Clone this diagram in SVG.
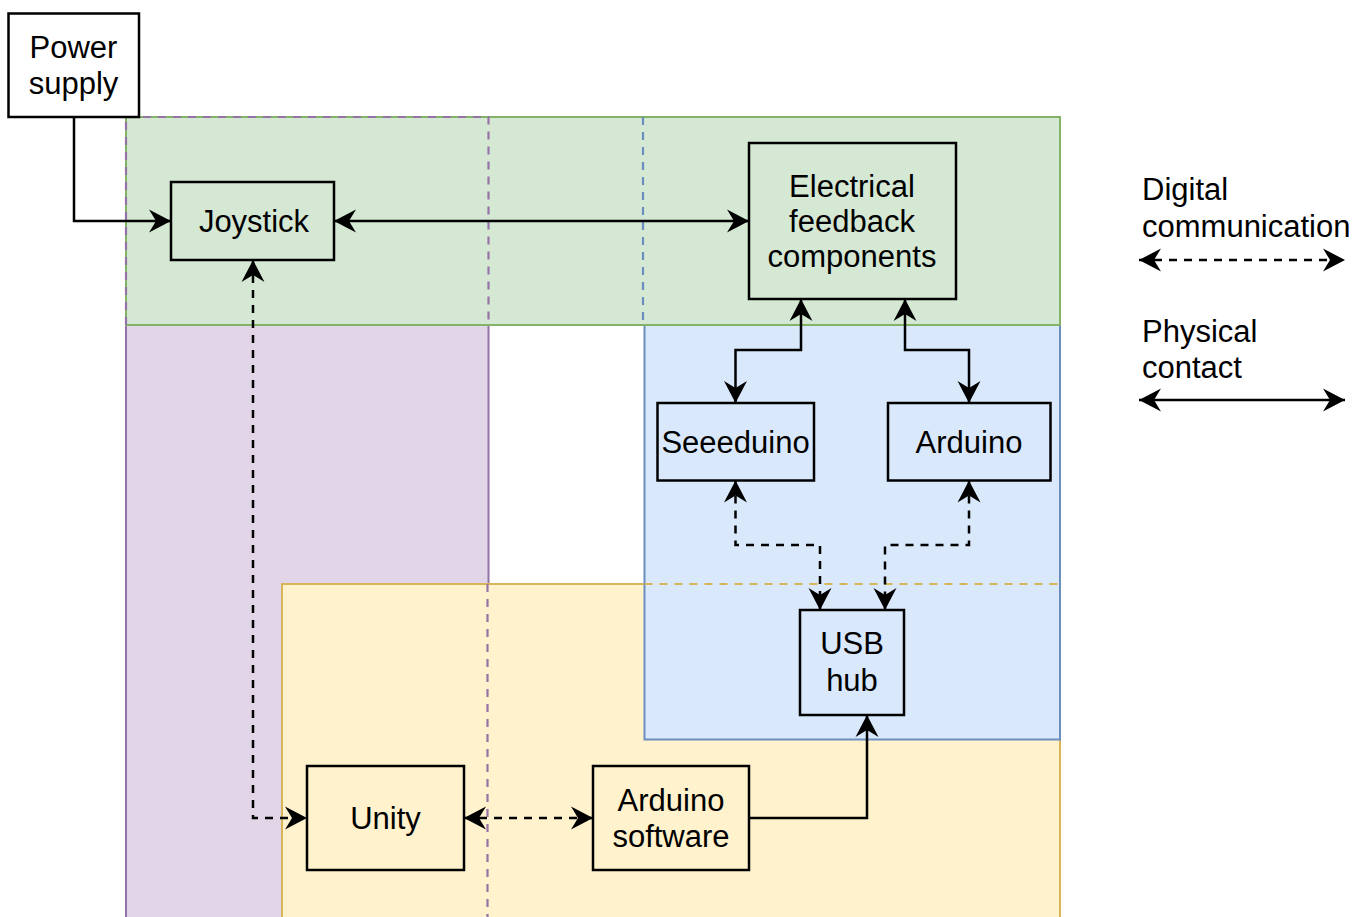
<svg xmlns="http://www.w3.org/2000/svg" width="1365" height="917" viewBox="0 0 1365 917">
<style>
.t{font-family:"Liberation Sans",Arial,Helvetica,sans-serif;font-size:31px;fill:#000;text-anchor:middle}
.l{font-family:"Liberation Sans",Arial,Helvetica,sans-serif;font-size:31px;fill:#000}
.box{fill:none;stroke:#000;stroke-width:2.5}
.solid{fill:none;stroke:#000;stroke-width:2.5}
.dash{fill:none;stroke:#000;stroke-width:2.5;stroke-dasharray:8 7}
.rd{fill:none;stroke-width:2.2;stroke-dasharray:8 7}
</style>
<defs>
<marker id="arr" markerUnits="userSpaceOnUse" viewBox="-24 -13 26 26" markerWidth="26" markerHeight="26" refX="0" refY="0" orient="auto-start-reverse">
<path d="M0 0 L-22 -11.5 L-15 0 L-22 11.5 Z" fill="#000" stroke="none"/>
</marker>
</defs>
<rect width="1365" height="917" fill="#fff"/>
<g id="regions">
<rect x="126" y="117" width="362.5" height="830" fill="#e1d5e7" stroke="#9673a6" stroke-width="2"/>
<rect x="282" y="584" width="778" height="360" fill="#fff2cc" stroke="#d6b656" stroke-width="2"/>
<rect x="644.5" y="117" width="415.5" height="622.5" fill="#dae8fc" stroke="#6c8ebf" stroke-width="2"/>
<rect x="126" y="117" width="934" height="208" fill="#d5e8d4" stroke="#82b366" stroke-width="2"/>
<path class="rd" stroke="#9673a6" d="M126 325 V117 H488.5 V325 M487.5 584 V917"/>
<path class="rd" stroke="#6c8ebf" d="M643 117 V325"/>
<path class="rd" stroke="#d6b656" d="M644.5 584 H1060"/>
</g>
<g id="power-supply">
<rect class="box" x="8.5" y="13.5" width="130.5" height="103.5" fill="#fff"/>
<text class="t" x="73.5" y="58">Power</text>
<text class="t" x="73.5" y="94">supply</text>
</g>
<g id="joystick">
<rect class="box" x="171" y="182" width="163" height="78"/>
<text class="t" x="254" y="232">Joystick</text>
</g>
<g id="electrical-feedback">
<rect class="box" x="749" y="143" width="207" height="156"/>
<text class="t" x="852" y="197">Electrical</text>
<text class="t" x="852" y="232">feedback</text>
<text class="t" x="852" y="267">components</text>
</g>
<g id="seeeduino">
<rect class="box" x="657.5" y="403" width="156.5" height="77.5"/>
<text class="t" x="735.5" y="453">Seeeduino</text>
</g>
<g id="arduino">
<rect class="box" x="888" y="403" width="162.5" height="77.5"/>
<text class="t" x="969" y="453">Arduino</text>
</g>
<g id="usb-hub">
<rect class="box" x="800" y="610" width="104" height="105"/>
<text class="t" x="852" y="654">USB</text>
<text class="t" x="852" y="691">hub</text>
</g>
<g id="unity">
<rect class="box" x="307" y="766" width="157" height="104"/>
<text class="t" x="385.5" y="829">Unity</text>
</g>
<g id="arduino-software">
<rect class="box" x="593" y="766" width="156" height="104"/>
<text class="t" x="671" y="811">Arduino</text>
<text class="t" x="671" y="847">software</text>
</g>
<g id="connectors">
<path class="solid" d="M74 117 V221 H171" marker-end="url(#arr)"/>
<path class="solid" d="M334 221 H749" marker-start="url(#arr)" marker-end="url(#arr)"/>
<path class="dash" d="M253 260 V818 H307" marker-start="url(#arr)" marker-end="url(#arr)"/>
<path class="dash" d="M464 818 H593" marker-start="url(#arr)" marker-end="url(#arr)"/>
<path class="solid" d="M749 818 H867 V715" marker-end="url(#arr)"/>
<path class="solid" d="M801 299 V350 H735.5 V403" marker-start="url(#arr)" marker-end="url(#arr)"/>
<path class="solid" d="M905 299 V350 H969 V403" marker-start="url(#arr)" marker-end="url(#arr)"/>
<path class="dash" d="M735.5 480.5 V545 H820 V610" marker-start="url(#arr)" marker-end="url(#arr)"/>
<path class="dash" d="M969 480.5 V545 H885 V610" marker-start="url(#arr)" marker-end="url(#arr)"/>
</g>
<g id="legend">
<text class="l" x="1142" y="200">Digital</text>
<text class="l" x="1142" y="237">communication</text>
<path class="dash" d="M1139 260 H1345" marker-start="url(#arr)" marker-end="url(#arr)"/>
<text class="l" x="1142" y="342">Physical</text>
<text class="l" x="1142" y="378">contact</text>
<path class="solid" d="M1139 400 H1345" marker-start="url(#arr)" marker-end="url(#arr)"/>
</g>
</svg>
